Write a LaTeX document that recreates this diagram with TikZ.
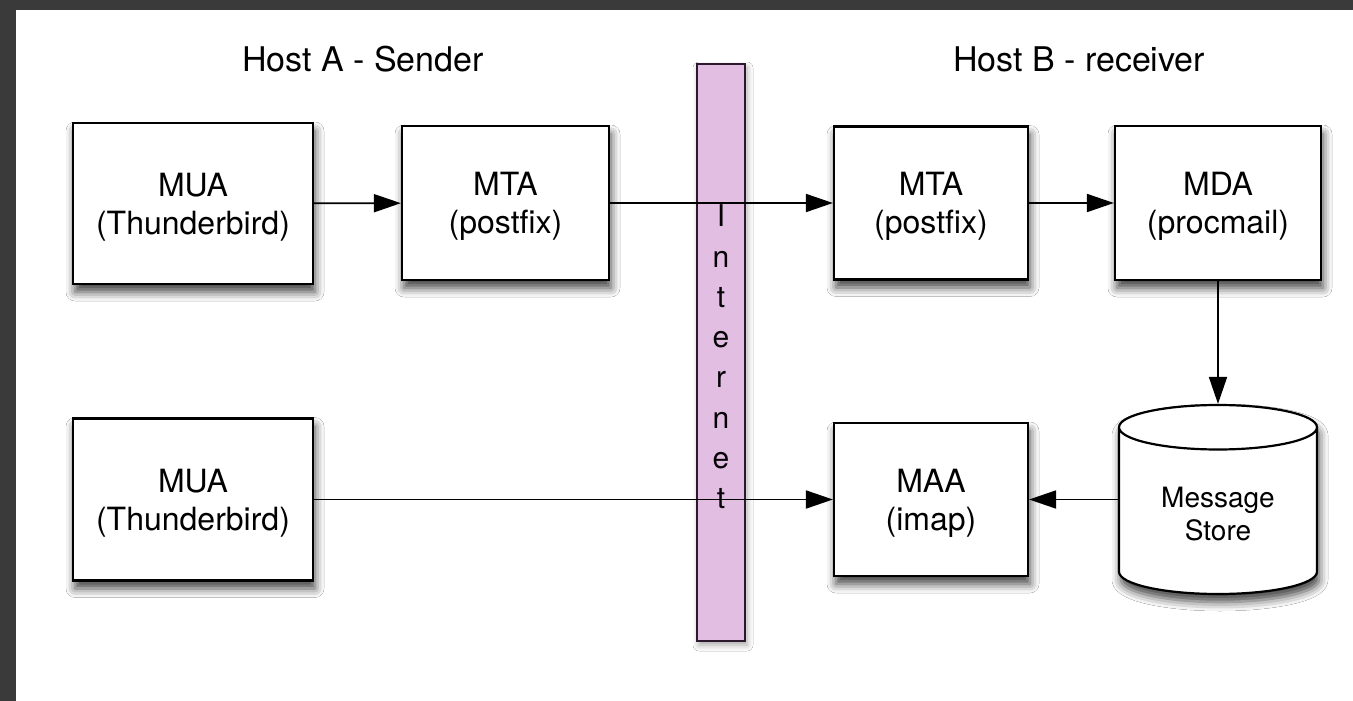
\documentclass[tikz,border=0pt]{standalone}
\usepackage{fontspec}
\setmainfont{TeX Gyre Heros}
\usepackage{tikz}
\usetikzlibrary{arrows.meta,shapes.geometric,shadows.blur}
\definecolor{netpink}{RGB}{226,190,226}
\definecolor{netedge}{RGB}{45,25,45}
\definecolor{framegray}{RGB}{58,58,58}

\begin{document}
\begin{tikzpicture}[x=1pt,y=-1pt,
  soft/.style={blur shadow={shadow xshift=2pt,shadow yshift=-8pt,shadow blur radius=9pt,shadow opacity=75}},
  agent/.style={draw,line width=2.2pt,fill=white,soft,align=center,text depth=0pt,font=\fontsize{32}{38}\selectfont},
  store/.style={draw,line width=2.2pt,fill=white,soft,cylinder,shape border rotate=90,aspect=0.37,
    minimum width=198pt,minimum height=189pt,align=center,text depth=0pt,font=\fontsize{28}{33}\selectfont},
  net/.style={draw=netedge,line width=2pt,fill=netpink,blur shadow={shadow xshift=2pt,shadow yshift=-4pt,shadow blur radius=6pt,shadow opacity=35},
    minimum width=48pt,minimum height=577pt,inner sep=0pt},
  nettext/.style={align=center,inner sep=0pt,font=\fontsize{30}{40.3}\selectfont,text=black!85!netedge},
  title/.style={inner sep=0pt,font=\fontsize{34}{40}\selectfont},
  conn/.style={->,>={Triangle[length=27pt,width=18pt]},line width=1.8pt}]
\useasboundingbox (0,0) rectangle (1353,701);
\fill[framegray] (0,0) rectangle (1353,701);
\fill[white] (16,10) rectangle (1353,701);

\node[title] (hosta) at (363,59) {Host A - Sender};
\node[title] (hostb) at (1079,59) {Host B - receiver};

\node[net] (net) at (721,352.5) {};
\node[nettext] (netlabel) at (721,357) {I\\n\\t\\e\\r\\n\\e\\t};

\node[agent,minimum width=240pt,minimum height=161pt] (mua1) at (193,203.5) {MUA\\(Thunderbird)};
\node[agent,minimum width=207pt,minimum height=154pt] (mta1) at (505.5,203) {MTA\\(postfix)};
\node[agent,minimum width=194pt,minimum height=153pt] (mta2) at (931,203) {MTA\\(postfix)};
\node[agent,minimum width=206pt,minimum height=154pt] (mda) at (1218,203) {MDA\\(procmail)};
\node[agent,minimum width=240pt,minimum height=162pt] (mua2) at (193,499.5) {MUA\\(Thunderbird)};
\node[agent,minimum width=194pt,minimum height=153pt] (maa) at (931,499.5) {MAA\\(imap)};
\node[store,anchor=shape center] (msg) at (1218,499.5) {Message\\Store};

\draw[conn] (mua1) -- (mta1);
\draw[conn] (mta1) -- (mta2);
\draw[conn] (mta2) -- (mda);
\draw[conn] (mda) -- (msg);
\draw[conn] (mua2) -- (maa);
\draw[conn] (msg.west |- maa.east) -- (maa.east);
\end{tikzpicture}
\end{document}
